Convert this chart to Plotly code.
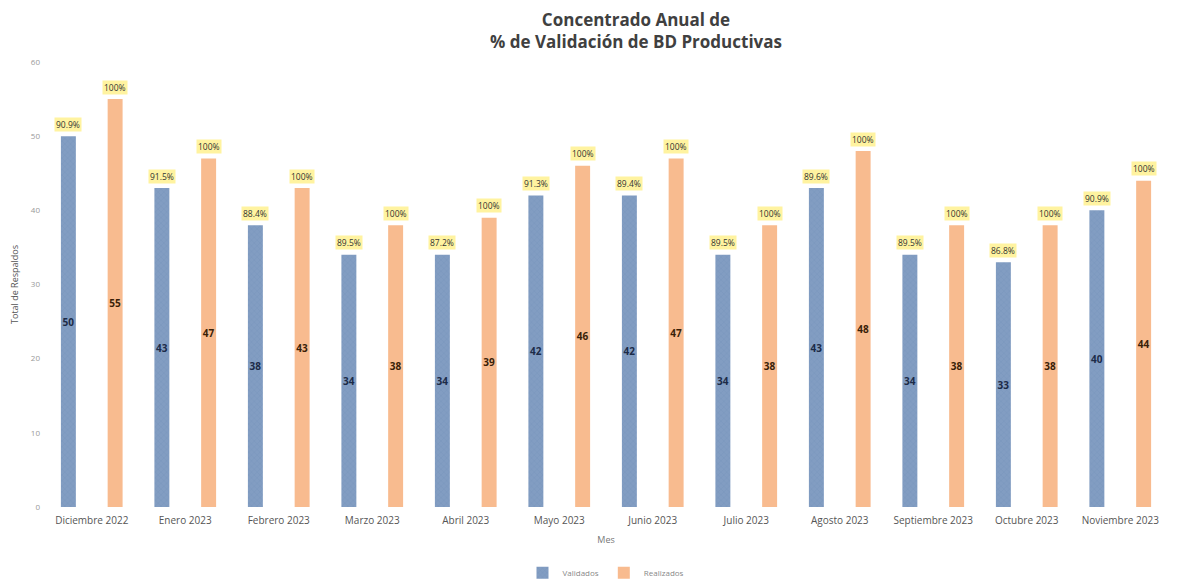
import plotly.graph_objects as go

meses = ["Diciembre 2022", "Enero 2023", "Febrero 2023", "Marzo 2023", "Abril 2023",
         "Mayo 2023", "Junio 2023", "Julio 2023", "Agosto 2023", "Septiembre 2023",
         "Octubre 2023", "Noviembre 2023"]
validados = [50, 43, 38, 34, 34, 42, 42, 34, 43, 34, 33, 40]
realizados = [55, 47, 43, 38, 39, 46, 47, 38, 48, 38, 38, 44]
pct_validados = ["90.9%", "91.5%", "88.4%", "89.5%", "87.2%", "91.3%",
                 "89.4%", "89.5%", "89.6%", "89.5%", "86.8%", "90.9%"]
pct_realizados = ["100%"] * 12

BLUE = "#829dc2"
ORANGE = "#f8bb8f"
FONT = "Open Sans"

fig = go.Figure()
fig.add_trace(go.Bar(
    name="Validados", x=meses, y=validados,
    text=[str(v) for v in validados], textposition="inside",
    insidetextanchor="middle", textangle=0,
    textfont=dict(family=FONT, size=10, color="#1c2b48", weight="bold"),
    marker=dict(color=BLUE, line=dict(width=0),
                pattern=dict(shape="x", fgcolor="#6f8cb7", size=4, solidity=0.25)),
))
fig.add_trace(go.Bar(
    name="Realizados", x=meses, y=realizados,
    text=[str(v) for v in realizados], textposition="inside",
    insidetextanchor="middle", textangle=0,
    textfont=dict(family=FONT, size=10, color="#3a1f08", weight="bold"),
    marker=dict(color=ORANGE, line=dict(width=0)),
))

annotations = []
for m, v, p in zip(meses, validados, pct_validados):
    annotations.append(dict(x=m, y=v, xref="x", yref="y", text=p, showarrow=False,
                            xshift=-23.5, yshift=12, bgcolor="#fff3a0",
                            font=dict(family=FONT, size=8.5, color="#333333"), borderpad=1))
for m, v, p in zip(meses, realizados, pct_realizados):
    annotations.append(dict(x=m, y=v, xref="x", yref="y", text=p, showarrow=False,
                            xshift=23.5, yshift=12, bgcolor="#fff3a0",
                            font=dict(family=FONT, size=8.5, color="#333333"), borderpad=1))

fig.update_layout(
    width=1180, height=580,
    margin=dict(l=45, r=13, t=62, b=73, autoexpand=False),
    paper_bgcolor="white", plot_bgcolor="white",
    barmode="group", bargap=0.0, bargroupgap=0.68,
    uniformtext=dict(mode="show", minsize=10),
    title=dict(text="<b>Concentrado Anual de<br>% de Validación de BD Productivas</b>",
               x=0.539, xanchor="center", yref="container", y=0.955, yanchor="middle",
               font=dict(family=FONT, size=17, color="#404040")),
    xaxis=dict(title=dict(text="Mes", font=dict(family=FONT, size=9, color="#777777"), standoff=10),
               tickfont=dict(family=FONT, size=10, color="#555555"),
               ticklabelstandoff=6, automargin=False,
               showline=False, showgrid=False, ticks=""),
    yaxis=dict(title=dict(text="Total de Respaldos", font=dict(family=FONT, size=9, color="#555555"),
                          standoff=10),
               range=[0, 60], dtick=10, showgrid=False, zeroline=False, showline=False,
               automargin=False, ticklabelstandoff=4,
               tickfont=dict(family=FONT, size=8, color="#999999")),
    legend=dict(orientation="h", x=0.5, xanchor="center", y=-0.115, yanchor="top",
                font=dict(family=FONT, size=8, color="#888888")),
    annotations=annotations,
    showlegend=True,
)

fig.write_html("out.html")
